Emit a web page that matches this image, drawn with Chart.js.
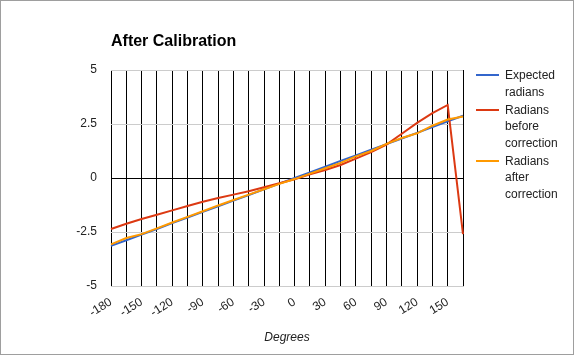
<!DOCTYPE html>
<html>
<head>
<meta charset="utf-8">
<script src="https://cdn.jsdelivr.net/npm/chart.js@4.4.1/dist/chart.umd.min.js"></script>
<style>
  html, body { margin: 0; padding: 0; background: #fff; }
  #wrap { width: 576px; height: 356px; position: relative; }
</style>
</head>
<body>
<div id="wrap"><canvas id="c" width="576" height="356"></canvas></div>
<script>
// ---- data ----
const degrees = [-180,-165,-150,-135,-120,-105,-90,-75,-60,-45,-30,-15,0,15,30,45,60,75,90,105,120,135,150,165];
const expectedRadians = [-3.14,-2.88,-2.62,-2.36,-2.09,-1.83,-1.57,-1.31,-1.05,-0.79,-0.52,-0.26,0,0.26,0.52,0.79,1.05,1.31,1.57,1.83,2.09,2.36,2.62,2.88];
const radiansBefore = [-2.36,-2.12,-1.9,-1.7,-1.5,-1.3,-1.1,-0.93,-0.77,-0.61,-0.43,-0.24,-0.06,0.17,0.37,0.6,0.9,1.2,1.55,2.05,2.55,3.0,3.38,-2.6];
const radiansAfter = [-3.07,-2.78,-2.6,-2.33,-2.06,-1.8,-1.54,-1.27,-1.02,-0.77,-0.52,-0.27,-0.05,0.2,0.45,0.7,1.0,1.25,1.58,1.85,2.07,2.42,2.71,2.85];
const seriesNames = ["Expected radians", "Radians before correction", "Radians after correction"];
const seriesColors = ["#3366cc", "#dc3912", "#ff9900"];
const yTicks = [-5, -2.5, 0, 2.5, 5];
const titleText = "After Calibration";
const xTitle = "Degrees";

const FONT = "'Liberation Sans', Arial, sans-serif";
Chart.defaults.font.family = FONT;
Chart.defaults.font.size = 12;
Chart.defaults.color = "#222";

const frame = {
  id: 'frame',
  beforeDraw(chart) {
    const ctx = chart.ctx;
    ctx.save();
    ctx.fillStyle = '#fff';
    ctx.fillRect(0, 0, chart.width, chart.height);
    ctx.strokeStyle = '#9e9e9e';
    ctx.lineWidth = 1;
    ctx.strokeRect(0.5, 0.5, 573, 354);
    ctx.restore();
  }
};

const wrappedLegend = {
  id: 'wrappedLegend',
  afterDraw(chart) {
    const ctx = chart.ctx;
    const area = chart.chartArea;
    const x0 = area.right + 13, x1 = area.right + 36, tx = area.right + 42;
    const maxW = chart.width - tx - 4;
    const lh = 16.5;
    let y = 76;
    ctx.save();
    ctx.font = "12px " + FONT;
    ctx.textBaseline = 'middle';
    ctx.textAlign = 'left';
    chart.data.datasets.forEach((ds) => {
      const words = ds.label.split(' ');
      const lines = [];
      let cur = '';
      words.forEach(w => {
        const t = cur ? cur + ' ' + w : w;
        if (cur && ctx.measureText(t).width > maxW) { lines.push(cur); cur = w; } else { cur = t; }
      });
      if (cur) lines.push(cur);
      ctx.strokeStyle = ds.borderColor;
      ctx.lineWidth = 2;
      ctx.beginPath();
      ctx.moveTo(x0, Math.round(y - 1));
      ctx.lineTo(x1, Math.round(y - 1));
      ctx.stroke();
      ctx.fillStyle = '#222';
      lines.forEach((ln, k) => ctx.fillText(ln, tx, y + k * lh));
      y += lines.length * lh + 1.5;
    });
    ctx.restore();
  }
};

const seriesData = [expectedRadians, radiansBefore, radiansAfter];
const orders = [2, 1, 0];

new Chart(document.getElementById('c'), {
  type: 'line',
  data: {
    labels: degrees,
    datasets: seriesData.map((d, i) => ({
      label: seriesNames[i],
      data: d,
      borderColor: seriesColors[i],
      backgroundColor: seriesColors[i],
      borderWidth: 2,
      pointRadius: 0,
      tension: 0,
      fill: false,
      order: orders[i]
    }))
  },
  options: {
    responsive: false,
    animation: false,
    devicePixelRatio: 1,
    layout: { padding: { left: 0, right: 113, top: 0, bottom: 0 } },
    plugins: {
      legend: { display: false },
      tooltip: { enabled: false },
      title: {
        display: true,
        text: titleText,
        align: 'start',
        fullSize: false,
        color: '#000',
        font: { size: 16, weight: 'bold', family: FONT },
        padding: { top: 31.5, bottom: 19.3 }
      }
    },
    scales: {
      x: {
        type: 'category',
        offset: false,
        grid: { color: '#000', lineWidth: 1, drawTicks: false },
        border: { display: true, color: '#ccc' },
        ticks: {
          autoSkip: false,
          maxRotation: 32,
          minRotation: 32,
          padding: 9,
          color: '#222',
          callback: function(v, i) { return degrees[i] % 30 === 0 ? String(degrees[i]) : ''; }
        },
        title: {
          display: true,
          text: xTitle,
          color: '#222',
          font: { size: 12, style: 'italic', family: FONT },
          padding: { top: 0, bottom: 10.8 }
        },
        afterFit(s) { s.height = 70; }
      },
      y: {
        min: -5, max: 5,
        afterBuildTicks(s) { s.ticks = yTicks.map(v => ({ value: v })); },
        grid: {
          drawTicks: false,
          color: (c) => (c.tick && c.tick.value === 0) ? '#000' : '#ccc',
          lineWidth: 1
        },
        border: { display: false },
        ticks: { padding: 14, color: '#222' },
        afterFit(s) { s.width = 111; }
      }
    }
  },
  plugins: [frame, wrappedLegend]
});
</script>
</body>
</html>
